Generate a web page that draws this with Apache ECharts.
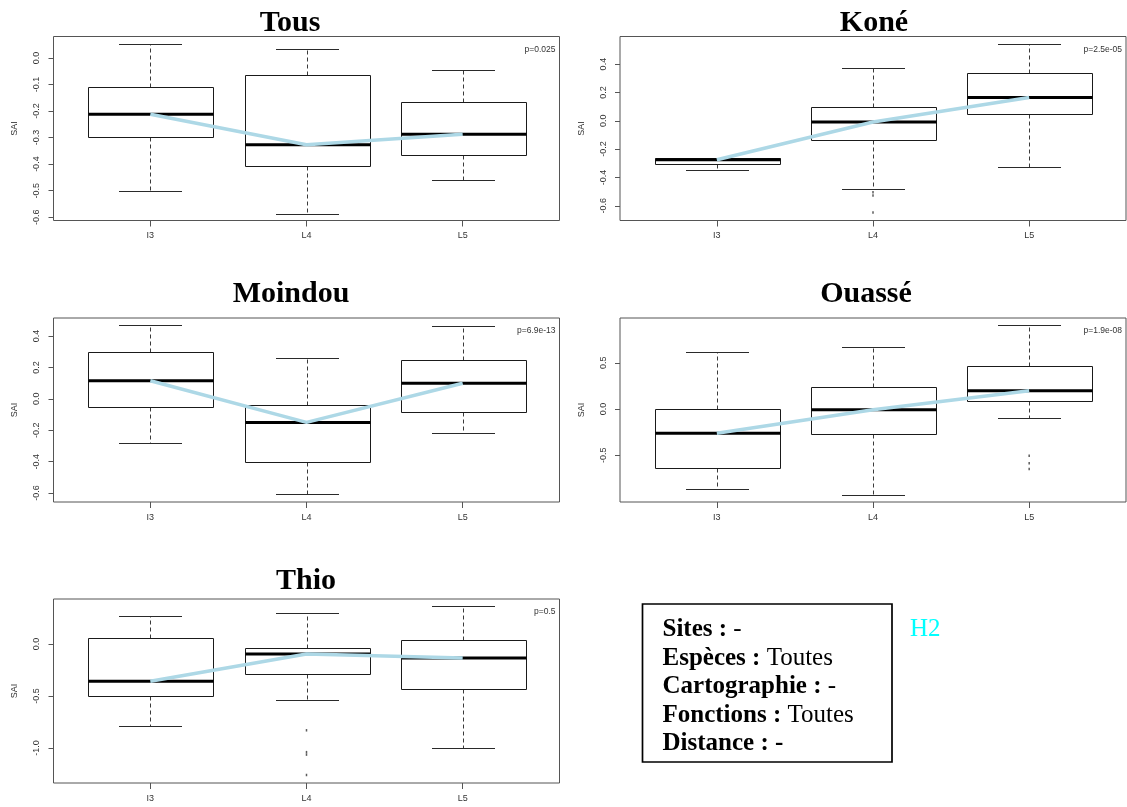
<!DOCTYPE html>
<html><head><meta charset="utf-8">
<script src="https://cdn.jsdelivr.net/npm/echarts@6/dist/echarts.min.js"></script>
<style>html,body{margin:0;padding:0;background:#fff}#c{width:1127px;height:807px}</style>
</head><body><div id="c"></div><script>
// ---------- data ----------
const categories = ['I3', 'L4', 'L5'];
const panelNames = ['Tous', 'Koné', 'Moindou', 'Ouassé', 'Thio'];
const pValues = ['p=0.025', 'p=2.5e-05', 'p=6.9e-13', 'p=1.9e-08', 'p=0.5'];
// each box: [lower whisker, Q1, median, Q3, upper whisker]
const tousBoxes    = [[-0.501, -0.298, -0.212, -0.111, 0.054], [-0.588, -0.407, -0.327, -0.064, 0.034], [-0.458, -0.366, -0.287, -0.165, -0.047]];
const koneBoxes    = [[-0.348, -0.308, -0.275, -0.266, -0.266], [-0.480, -0.134, -0.009, 0.096, 0.374], [-0.329, 0.047, 0.165, 0.336, 0.544]];
const moindouBoxes = [[-0.282, -0.052, 0.115, 0.298, 0.472], [-0.609, -0.400, -0.150, -0.039, 0.258], [-0.218, -0.084, 0.099, 0.249, 0.462]];
const ouasseBoxes  = [[-0.867, -0.640, -0.263, 0.000, 0.619], [-0.928, -0.270, -0.008, 0.241, 0.673], [-0.100, 0.090, 0.198, 0.468, 0.906]];
const thioBoxes    = [[-0.785, -0.503, -0.359, 0.058, 0.272], [-0.538, -0.292, -0.096, -0.035, 0.298], [-1.000, -0.436, -0.135, 0.035, 0.369]];
// outliers: [category position, value]
const tousOutliers    = [];
const koneOutliers    = [[2, -0.505], [2, -0.528], [2, -0.647]];
const moindouOutliers = [];
const ouasseOutliers  = [[3, -0.507], [3, -0.586], [3, -0.650]];
const thioOutliers    = [[2, -0.830], [2, -1.040], [2, -1.064], [2, -1.260]];
// y tick labels and axis limits
const tousTicks    = [-0.6, -0.5, -0.4, -0.3, -0.2, -0.1, 0.0];
const koneTicks    = [-0.6, -0.4, -0.2, 0.0, 0.2, 0.4];
const moindouTicks = [-0.6, -0.4, -0.2, 0.0, 0.2, 0.4];
const ouasseTicks  = [-0.5, 0.0, 0.5];
const thioTicks    = [-1.0, -0.5, 0.0];
const tousRange    = [-0.6125, 0.081];
const koneRange    = [-0.704, 0.595];
const moindouRange = [-0.657, 0.515];
const ouasseRange  = [-1.007, 0.986];
const thioRange    = [-1.337, 0.433];
const xRange = [0.38, 3.62];
const xTickValues = [1, 2, 3];

// ---------- layout ----------
const W = 506, H = 184;
const panels = [
  {name: panelNames[0], p: pValues[0], boxes: tousBoxes, out: tousOutliers, ticks: tousTicks, range: tousRange, x: 53.5, y: 36.5, tx: 290, ty: 23},
  {name: panelNames[1], p: pValues[1], boxes: koneBoxes, out: koneOutliers, ticks: koneTicks, range: koneRange, x: 620, y: 36.5, tx: 874, ty: 23},
  {name: panelNames[2], p: pValues[2], boxes: moindouBoxes, out: moindouOutliers, ticks: moindouTicks, range: moindouRange, x: 53.5, y: 318, tx: 291, ty: 294},
  {name: panelNames[3], p: pValues[3], boxes: ouasseBoxes, out: ouasseOutliers, ticks: ouasseTicks, range: ouasseRange, x: 620, y: 318, tx: 866, ty: 294},
  {name: panelNames[4], p: pValues[4], boxes: thioBoxes, out: thioOutliers, ticks: thioTicks, range: thioRange, x: 53.5, y: 599, tx: 306, ty: 581}
];

function boxRender(params, api) {
  const x = api.value(0);
  const lo = api.value(1), q1 = api.value(2), md = api.value(3), q3 = api.value(4), hi = api.value(5);
  const bw = api.size([0.8, 0])[0];
  const cw = api.size([0.4, 0])[0];
  const cx = Math.round(api.coord([x, md])[0]) + 0.5;
  const y = v => Math.round(api.coord([x, v])[1]) + 0.5;
  const yLo = y(lo), yQ1 = y(q1), yMd = api.coord([x, md])[1], yQ3 = y(q3), yHi = y(hi);
  const L = Math.round(cx - bw / 2) + 0.5, R = Math.round(cx + bw / 2) + 0.5;
  const dash = {stroke: '#3a3a3a', lineWidth: 1, lineDash: [4, 3]};
  const solid = {stroke: '#2a2a2a', lineWidth: 1};
  return {
    type: 'group',
    children: [
      {type: 'line', shape: {x1: cx, y1: yQ3, x2: cx, y2: yHi}, style: dash},
      {type: 'line', shape: {x1: cx, y1: yQ1, x2: cx, y2: yLo}, style: dash},
      {type: 'line', shape: {x1: Math.round(cx - cw / 2), y1: yHi, x2: Math.round(cx + cw / 2), y2: yHi}, style: solid},
      {type: 'line', shape: {x1: Math.round(cx - cw / 2), y1: yLo, x2: Math.round(cx + cw / 2), y2: yLo}, style: solid},
      {type: 'rect', shape: {x: L, y: yQ3, width: R - L, height: yQ1 - yQ3}, style: {fill: '#fff', stroke: '#1a1a1a', lineWidth: 1}},
      {type: 'line', shape: {x1: L, y1: yMd, x2: R, y2: yMd}, style: {stroke: '#000', lineWidth: 3}}
    ]
  };
}

const grids = [], xAxes = [], yAxes = [], series = [], graphics = [];
const labelFont = {fontFamily: 'Liberation Sans', fontSize: 9, color: '#333'};
panels.forEach((p, i) => {
  grids.push({left: p.x, top: p.y, width: W, height: H, show: true, borderColor: '#555', borderWidth: 1, backgroundColor: 'transparent'});
  xAxes.push({
    gridIndex: i, type: 'value', min: xRange[0], max: xRange[1], position: 'bottom',
    axisLine: {show: false, onZero: false}, splitLine: {show: false},
    axisTick: {show: true, customValues: xTickValues, length: 6, lineStyle: {color: '#555'}},
    axisLabel: Object.assign({customValues: xTickValues, margin: 11, formatter: v => categories[Math.round(v) - 1]}, labelFont)
  });
  yAxes.push({
    gridIndex: i, type: 'value', min: p.range[0], max: p.range[1], position: 'left',
    name: 'SAI', nameLocation: 'middle', nameGap: 34, nameRotate: 90,
    nameTextStyle: labelFont,
    axisLine: {show: false, onZero: false}, splitLine: {show: false},
    axisTick: {show: true, customValues: p.ticks, length: 5, lineStyle: {color: '#555'}},
    axisLabel: Object.assign({customValues: p.ticks, rotate: 90, margin: 12, formatter: v => v.toFixed(1)}, labelFont)
  });
  series.push({
    type: 'custom', xAxisIndex: i, yAxisIndex: i, silent: true, z: 2,
    data: p.boxes.map((b, j) => [xTickValues[j]].concat(b)),
    encode: {x: 0, y: [1, 2, 3, 4, 5]},
    renderItem: boxRender
  });
  series.push({
    type: 'scatter', xAxisIndex: i, yAxisIndex: i, silent: true, z: 3,
    symbol: 'rect', symbolSize: [1.5, 2.5], itemStyle: {color: '#333'},
    data: p.out
  });
  series.push({
    type: 'line', xAxisIndex: i, yAxisIndex: i, silent: true, z: 4,
    symbol: 'none', lineStyle: {color: '#ADD8E6', width: 3.5},
    data: p.boxes.map((b, j) => [xTickValues[j], b[2]])
  });
  graphics.push({type: 'text', x: p.tx, y: p.ty, style: {text: p.name, font: 'bold 30px "Liberation Serif"', fill: '#000', textAlign: 'center', textVerticalAlign: 'middle'}});
  graphics.push({type: 'text', x: p.x + W - 4, y: p.y + 13, style: {text: p.p, font: '8.5px "Liberation Sans"', fill: '#333', textAlign: 'right', textVerticalAlign: 'middle'}});
});

graphics.push({type: 'rect', shape: {x: 642.5, y: 604, width: 249.5, height: 158}, style: {fill: '#fff', stroke: '#000', lineWidth: 1.7}});
graphics.push({type: 'text', x: 662.5, y: 615.5, style: {
  text: '{b|Sites :} {n|-}\n{b|Espèces :} {n|Toutes}\n{b|Cartographie :} {n|-}\n{b|Fonctions :} {n|Toutes}\n{b|Distance : -}',
  textAlign: 'left', textVerticalAlign: 'top',
  font: '25px "Liberation Serif"', fill: '#000', lineHeight: 28.5,
  rich: {
    b: {font: 'bold 25px "Liberation Serif"', fill: '#000', lineHeight: 28.5},
    n: {font: '25px "Liberation Serif"', fill: '#000', lineHeight: 28.5}
  }
}});
graphics.push({type: 'text', x: 910, y: 629, style: {text: 'H2', font: '25px "Liberation Serif"', fill: '#00FFFF', textAlign: 'left', textVerticalAlign: 'middle'}});

const chart = echarts.init(document.getElementById('c'), null, {renderer: 'canvas'});
chart.setOption({
  animation: false,
  backgroundColor: '#fff',
  grid: grids, xAxis: xAxes, yAxis: yAxes, series: series, graphic: graphics
});
</script></body></html>
